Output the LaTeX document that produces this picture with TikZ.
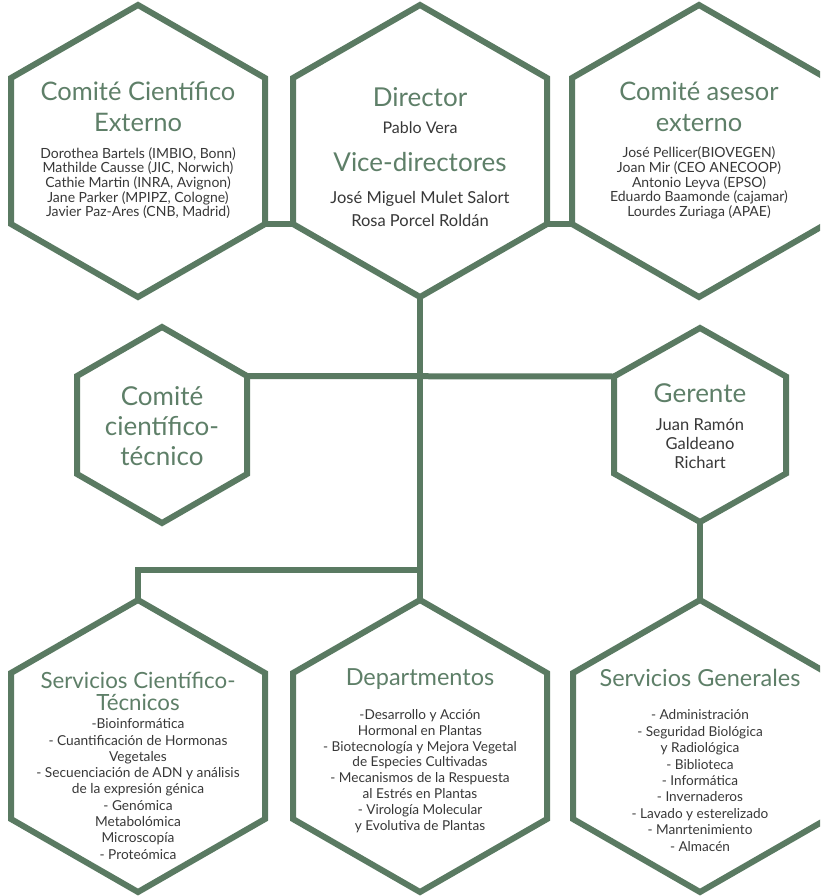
\documentclass[tikz,border=0pt]{standalone}
\usepackage{fontspec}
\setmainfont{Lato}
\usetikzlibrary{calc}
\definecolor{hexgreen}{HTML}{5A7A62}
\definecolor{titlegreen}{HTML}{5E7F68}
\definecolor{bodygray}{HTML}{383838}
\tikzset{
  hexline/.style={draw=hexgreen, line width=6pt, line join=miter},
  conn/.style={draw=hexgreen, line width=6pt},
  ttl/.style={text=titlegreen, align=center, inner sep=0pt},
  bdy/.style={text=bodygray, align=center, inner sep=0pt},
}
% name, x, y, R, half width
\newcommand\hexagonshape[5]{%
  \coordinate (#1) at (#2,#3);
  \coordinate (#1-n) at ($(#1)+(0,{-#4})$);
  \coordinate (#1-ne) at ($(#1)+({#5},{-#4/2})$);
  \coordinate (#1-se) at ($(#1)+({#5},{#4/2})$);
  \coordinate (#1-s) at ($(#1)+(0,{#4})$);
  \coordinate (#1-sw) at ($(#1)+({-#5},{#4/2})$);
  \coordinate (#1-nw) at ($(#1)+({-#5},{-#4/2})$);
  \draw[hexline] (#1-n) -- (#1-ne) -- (#1-se) -- (#1-s) -- (#1-sw) -- (#1-nw) -- cycle;
}
\begin{document}
\begin{tikzpicture}[x=1pt,y=-1pt]
\fill[white] (0,0) rectangle (820,896);
\useasboundingbox (0,0) rectangle (820,896);
\begin{scope}
\clip (0,0) rectangle (820,896);
% hexagons
\hexagonshape{cext}{138}{151}{146}{127}
\hexagonshape{dir}{420}{151}{146}{127}
\hexagonshape{cas}{699}{151}{146}{127}
\hexagonshape{cct}{162}{425}{98}{85}
\hexagonshape{ger}{700}{425}{97}{86}
\hexagonshape{sct}{138}{746}{146}{127}
\hexagonshape{dep}{420}{746}{146}{127}
\hexagonshape{sgen}{700}{746}{146}{127}
% connectors
\coordinate (jn) at (420,570);
\coordinate (jl) at (138,570);
\draw[conn] (cext-se) -- (dir-sw);
\draw[conn] (dir-se) -- (cas-sw);
\draw[conn] (dir-s) -- (jn);
\draw[conn] (cct-ne) -- (ger-nw);
\draw[conn] (jn) -- (jl) -- (sct-n);
\draw[conn] (jn) -- (dep-n);
\draw[conn] (ger-s) -- (sgen-n);
\end{scope}
% texts
\node[ttl, font=\fontsize{25.5}{31}\selectfont] (cextT) at (138,107) {Comité Científico\\Externo};
\node[bdy, font=\fontsize{14}{14.6}\selectfont] (cextB) at (138,183) {Dorothea Bartels (IMBIO, Bonn)\\Mathilde Causse (JIC, Norwich)\\Cathie Martin (INRA, Avignon)\\Jane Parker (MPIPZ, Cologne)\\Javier Paz-Ares (CNB, Madrid)};

\node[ttl, font=\fontsize{26}{31}\selectfont] (dirT) at (420,97) {Director};
\node[bdy, font=\fontsize{16}{18}\selectfont] (dirB) at (420,128) {Pablo Vera};
\node[ttl, font=\fontsize{26}{31}\selectfont] (vdirT) at (420,162) {Vice-directores};
\node[bdy, font=\fontsize{16.5}{23}\selectfont] (vdirB) at (420,208.5) {José Miguel Mulet Salort\\Rosa Porcel Roldán};

\node[ttl, font=\fontsize{25.5}{31}\selectfont] (casT) at (699,107) {Comité asesor\\externo};
\node[bdy, font=\fontsize{14}{14.6}\selectfont] (casB) at (699,183) {José Pellicer(BIOVEGEN)\\Joan Mir (CEO ANECOOP)\\Antonio Leyva (EPSO)\\Eduardo Baamonde (cajamar)\\Lourdes Zuriaga (APAE)};

\node[ttl, font=\fontsize{26}{30}\selectfont] (cctT) at (162,426) {Comité\\científico-\\técnico};

\node[ttl, font=\fontsize{26}{31}\selectfont] (gerT) at (700,393) {Gerente};
\node[bdy, font=\fontsize{16.5}{19}\selectfont] (gerB) at (700,444) {Juan Ramón\\Galdeano\\Richart};

\node[ttl, font=\fontsize{22.3}{22}\selectfont] (sctT) at (138,691) {Servicios Científico-\\Técnicos};
\node[bdy, font=\fontsize{13.7}{16.3}\selectfont] (sctB) at (138,789) {-Bioinformática\\- Cuantificación de Hormonas\\Vegetales\\- Secuenciación de ADN y análisis\\de la expresión génica\\- Genómica\\Metabolómica\\Microscopía\\- Proteómica};

\node[ttl, font=\fontsize{23.5}{25}\selectfont] (depT) at (420,679) {Departmentos};
\node[bdy, font=\fontsize{13.6}{15.9}\selectfont] (depB) at (420,771) {-Desarrollo y Acción\\Hormonal en Plantas\\- Biotecnología y Mejora Vegetal\\de Especies Cultivadas\\- Mecanismos de la Respuesta\\al Estrés en Plantas\\- Virología Molecular\\y Evolutiva de Plantas};

\node[ttl, font=\fontsize{23.5}{25}\selectfont] (sgenT) at (700,678) {Servicios Generales};
\node[bdy, font=\fontsize{13.6}{16.4}\selectfont] (sgenB) at (700,780.5) {- Administración\\- Seguridad Biológica\\y Radiológica\\- Biblioteca\\- Informática\\- Invernaderos\\- Lavado y esterelizado\\- Manrtenimiento\\- Almacén};
\end{tikzpicture}
\end{document}
